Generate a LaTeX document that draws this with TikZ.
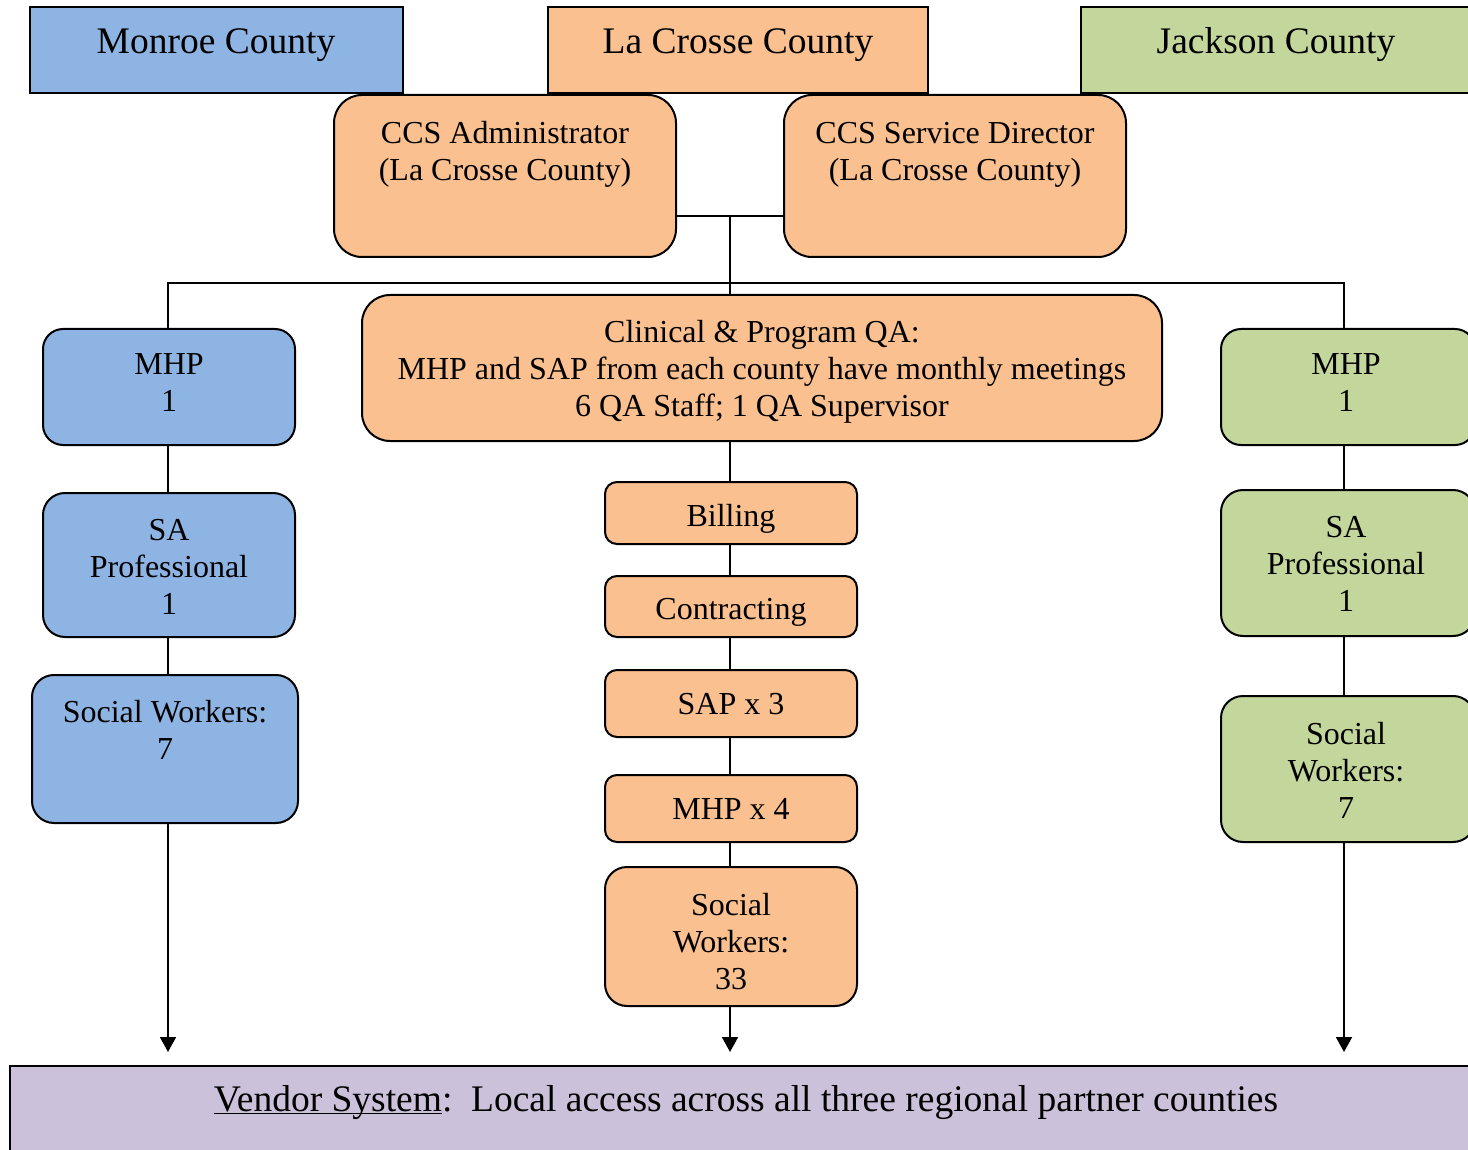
\documentclass[tikz,border=0pt]{standalone}
\usepackage{fontspec}
\setmainfont{Liberation Serif}
\usetikzlibrary{arrows.meta}
\definecolor{cblue}{HTML}{8EB4E3}
\definecolor{corange}{HTML}{FAC090}
\definecolor{cgreen}{HTML}{C3D69B}
\definecolor{cpurple}{HTML}{CCC1DA}
\tikzset{
  box/.style={draw=black, line width=2pt, inner sep=0pt, outer sep=0pt},
  rbox/.style={box, rounded corners=#1},
  tbig/.style={inner sep=0pt, align=center, font=\fontsize{37.5}{42}\selectfont},
  tmid/.style={inner sep=0pt, align=center, font=\fontsize{32}{37}\selectfont},
  conn/.style={line width=1.8pt},
  arr/.style={line width=1.8pt, -{Triangle[width=16pt,length=15pt]}}
}
\newcommand{\myul}[1]{\underline{\smash{#1}}}
\begin{document}
\begin{tikzpicture}[x=1pt,y=-1pt]
\useasboundingbox (0,0) rectangle (1468,1150);
% county boxes
\node[box, fill=cblue, minimum width=373pt, minimum height=86pt] (monroe) at (216.5,50) {};
\node[box, fill=corange, minimum width=380pt, minimum height=86pt] (lacrosse) at (738,50) {};
\node[box, fill=cgreen, minimum width=399pt, minimum height=86pt] (jackson) at (1280.5,50) {};
\node[tbig] (tmonroe) at (216,45) {\strut Monroe County};
\node[tbig] (tlacrosse) at (738,45) {\strut La Crosse County};
\node[tbig] (tjackson) at (1276,45) {\strut Jackson County};
% admin boxes
\node[rbox=28pt, fill=corange, minimum width=342pt, minimum height=162pt] (admin) at (505,176) {};
\node[rbox=28pt, fill=corange, minimum width=342pt, minimum height=162pt] (dir) at (955,176) {};
\node[tmid] (tadmin) at (505,154.5) {\strut CCS Administrator\\\strut (La Crosse County)};
\node[tmid] (tdir) at (955,154.5) {\strut CCS Service Director\\\strut (La Crosse County)};
% clinical
\node[rbox=28pt, fill=corange, minimum width=800pt, minimum height=146pt] (clin) at (762,368) {};
\node[tmid] (tclin) at (762,372) {\strut Clinical \& Program QA:\\\strut MHP and SAP from each county have monthly meetings\\\strut 6 QA Staff; 1 QA Supervisor};
% left column
\node[rbox=20pt, fill=cblue, minimum width=252pt, minimum height=116pt] (lmhp) at (169,387) {};
\node[tmid] (tlmhp) at (169,385.5) {\strut MHP\\\strut 1};
\node[rbox=22pt, fill=cblue, minimum width=252pt, minimum height=144pt] (lsa) at (169,565) {};
\node[tmid] (tlsa) at (169,570) {\strut SA\\\strut Professional\\\strut 1};
\node[rbox=22pt, fill=cblue, minimum width=266pt, minimum height=148pt] (lsw) at (165,749) {};
\node[tmid] (tlsw) at (165,734) {\strut Social Workers:\\\strut 7};
% right column
\node[rbox=20pt, fill=cgreen, minimum width=254pt, minimum height=116pt] (rmhp) at (1348,387) {};
\node[tmid] (trmhp) at (1346,385.5) {\strut MHP\\\strut 1};
\node[rbox=22pt, fill=cgreen, minimum width=254pt, minimum height=146pt] (rsa) at (1348,563) {};
\node[tmid] (trsa) at (1346,567) {\strut SA\\\strut Professional\\\strut 1};
\node[rbox=22pt, fill=cgreen, minimum width=254pt, minimum height=146pt] (rsw) at (1348,769) {};
\node[tmid] (trsw) at (1346,774) {\strut Social\\\strut Workers:\\\strut 7};
% middle column
\node[rbox=12pt, fill=corange, minimum width=252pt, minimum height=62pt] (bill) at (731,513) {};
\node[tmid] (tbill) at (731,519) {\strut Billing};
\node[rbox=12pt, fill=corange, minimum width=252pt, minimum height=61pt] (contr) at (731,606.5) {};
\node[tmid] (tcontr) at (731,612) {\strut Contracting};
\node[rbox=12pt, fill=corange, minimum width=252pt, minimum height=67pt] (sap) at (731,703.5) {};
\node[tmid] (tsap) at (731,707) {\strut SAP x 3};
\node[rbox=12pt, fill=corange, minimum width=252pt, minimum height=67pt] (mhpf) at (731,808.5) {};
\node[tmid] (tmhpf) at (731,812) {\strut MHP x 4};
\node[rbox=22pt, fill=corange, minimum width=252pt, minimum height=139pt] (sw33) at (731,936.5) {};
\node[tmid] (tsw33) at (731,945) {\strut Social\\\strut Workers:\\\strut 33};
% vendor
\node[box, fill=cpurple, minimum width=1470pt, minimum height=94pt] (vendor) at (745,1113) {};
\node[tbig] (tvendor) at (746,1103) {\strut\myul{Vendor System}:\ \ Local access across all three regional partner counties};
% junction coordinates
\coordinate (j1) at (730,216);
\coordinate (j2) at (730,283);
\coordinate (lcol) at (168,0);
\coordinate (rcol) at (1344,0);
\coordinate (mcol) at (730,0);
\coordinate (tipy) at (0,1052);
% connectors
\draw[conn] (admin.east |- j1) -- (dir.west |- j1);
\draw[conn] (j1) -- (j1 |- clin.north);
\draw[conn] (lcol |- lmhp.north) -- (lcol |- j2) -- (rcol |- j2) -- (rcol |- rmhp.north);
\draw[conn] (lcol |- lmhp.south) -- (lcol |- lsa.north);
\draw[conn] (lcol |- lsa.south) -- (lcol |- lsw.north);
\draw[conn] (rcol |- rmhp.south) -- (rcol |- rsa.north);
\draw[conn] (rcol |- rsa.south) -- (rcol |- rsw.north);
\draw[conn] (mcol |- clin.south) -- (mcol |- bill.north);
\draw[conn] (mcol |- bill.south) -- (mcol |- contr.north);
\draw[conn] (mcol |- contr.south) -- (mcol |- sap.north);
\draw[conn] (mcol |- sap.south) -- (mcol |- mhpf.north);
\draw[conn] (mcol |- mhpf.south) -- (mcol |- sw33.north);
\draw[arr] (lcol |- lsw.south) -- (lcol |- tipy);
\draw[arr] (mcol |- sw33.south) -- (mcol |- tipy);
\draw[arr] (rcol |- rsw.south) -- (rcol |- tipy);
\end{tikzpicture}
\end{document}
